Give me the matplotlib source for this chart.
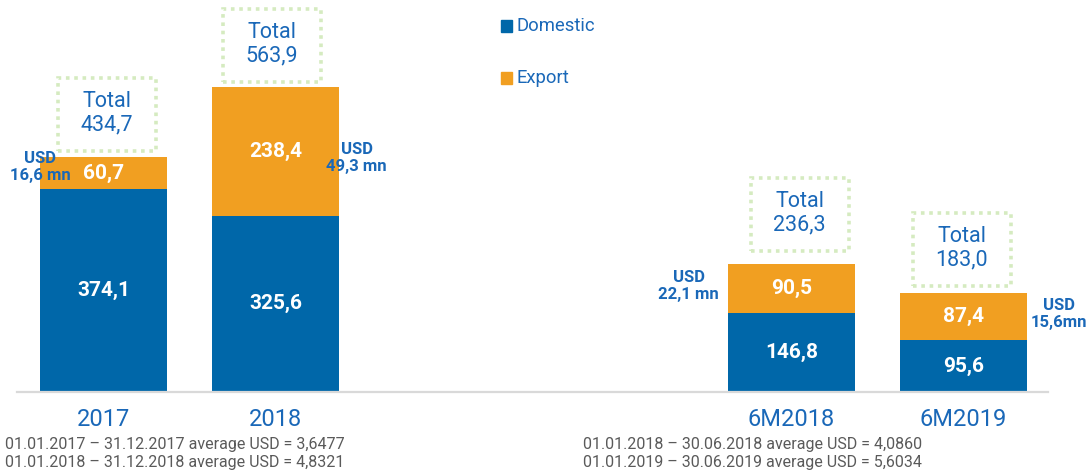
import matplotlib
matplotlib.use("Agg")
import matplotlib.pyplot as plt
from matplotlib.patches import Rectangle

plt.rcParams["font.family"] = ["Roboto", "DejaVu Sans"]

# ---- data ----
categories = ["2017", "2018", "6M2018", "6M2019"]
positions = [0, 1, 4, 5]
domestic = [374.1, 325.6, 146.8, 95.6]
export = [60.7, 238.4, 90.5, 87.4]
totals = ["434,7", "563,9", "236,3", "183,0"]
domestic_lbl = ["374,1", "325,6", "146,8", "95,6"]
export_lbl = ["60,7", "238,4", "90,5", "87,4"]
usd_lbl = ["USD\n16,6 mn", "USD\n49,3 mn", "USD\n22,1 mn", "USD\n15,6mn"]
footnotes_left = ["01.01.2017 \u2013 31.12.2017 average USD = 3,6477",
                  "01.01.2018 \u2013 31.12.2018 average USD = 4,8321"]
footnotes_right = ["01.01.2018 \u2013 30.06.2018 average USD = 4,0860",
                   "01.01.2019 \u2013 30.06.2019 average USD = 5,6034"]

BLUE = "#0067a9"
ORANGE = "#f19f21"
TXT_BLUE = "#1a68b8"
BOX_GREEN = "#d5ebc0"
GRAY = "#5a5a5a"

W_PX, H_PX = 1087, 472
PX_X = 172.0      # pixels per x unit
PX_Y = 0.5414     # pixels per y unit

# per-bar layout offsets (pixels): total box centre shift, gap above bar
box_dx = [3.5, -3.5, 8, -2]
box_gap = [6, 5, 13, 7]
usd_dx = [-63, 81, -103, 95]      # centre of USD text from bar centre
usd_y = [167, 158, 286, 314]      # pixel row (from top) of USD text centre

fig = plt.figure(figsize=(W_PX / 100, H_PX / 100), dpi=100)
ax = fig.add_axes([17 / W_PX, 80 / H_PX, (1048 - 17) / W_PX, 392 / H_PX])
ax.set_xlim(-(103.5 - 17) / PX_X, 5 + (1048 - 963.5) / PX_X)
ax.set_ylim(0, 392 / PX_Y)

bw = 127 / PX_X
ax.bar(positions, domestic, width=bw, color=BLUE, label="Domestic", zorder=2)
ax.bar(positions, export, width=bw, bottom=domestic, color=ORANGE, label="Export", zorder=2)

for i, x in enumerate(positions):
    d, e = domestic[i], export[i]
    ax.text(x, d / 2, domestic_lbl[i], ha="center", va="center", color="white",
            fontsize=15, fontweight="bold", zorder=3)
    ax.text(x, d + e / 2, export_lbl[i], ha="center", va="center", color="white",
            fontsize=15, fontweight="bold", zorder=3)
    # dotted total box
    bx_w = 98 / PX_X
    bx_h = 73 / PX_Y
    cx = x + box_dx[i] / PX_X
    y0 = d + e + box_gap[i] / PX_Y
    ax.add_patch(Rectangle((cx - bx_w / 2, y0), bx_w, bx_h, fill=False,
                           edgecolor=BOX_GREEN, lw=2.6, ls=(0, (1, 1.3)),
                           capstyle="butt", clip_on=False, zorder=3))
    ax.text(cx, y0 + bx_h - 24 / PX_Y, "Total", ha="center", va="center",
            color=TXT_BLUE, fontsize=15.5, clip_on=False)
    ax.text(cx, y0 + bx_h - 47 / PX_Y, totals[i], ha="center", va="center",
            color=TXT_BLUE, fontsize=15.5, clip_on=False)
    # USD annotation
    ax.text(x + usd_dx[i] / PX_X, (392 - usd_y[i]) / PX_Y, usd_lbl[i],
            ha="center", va="center", color=TXT_BLUE, fontsize=12,
            fontweight="bold", linespacing=1.1, zorder=4, clip_on=False)
    # category label
    ax.text(x, -28 / PX_Y, categories[i], ha="center", va="center",
            color=TXT_BLUE, fontsize=17, clip_on=False)

for s in ["top", "right", "left"]:
    ax.spines[s].set_visible(False)
ax.spines["bottom"].set_color("#d9d9d9")
ax.spines["bottom"].set_linewidth(1.6)
ax.set_xticks([])
ax.set_yticks([])

# legend drawn manually
for lbl, col, ypx in [("Domestic", BLUE, 26), ("Export", ORANGE, 78)]:
    fig.patches.append(Rectangle((501 / W_PX, 1 - (ypx + 5.5) / H_PX), 11 / W_PX, 11 / H_PX,
                                 transform=fig.transFigure, color=col))
    fig.text(517 / W_PX, 1 - ypx / H_PX, lbl, ha="left", va="center",
             color=TXT_BLUE, fontsize=13.3)

for j, ypx in enumerate([444, 463]):
    fig.text(5 / W_PX, 1 - ypx / H_PX, footnotes_left[j], ha="left", va="center",
             color=GRAY, fontsize=11.5)
    fig.text(583 / W_PX, 1 - ypx / H_PX, footnotes_right[j], ha="left", va="center",
             color=GRAY, fontsize=11.5)

fig.savefig("out.png", dpi=100, facecolor="white")
